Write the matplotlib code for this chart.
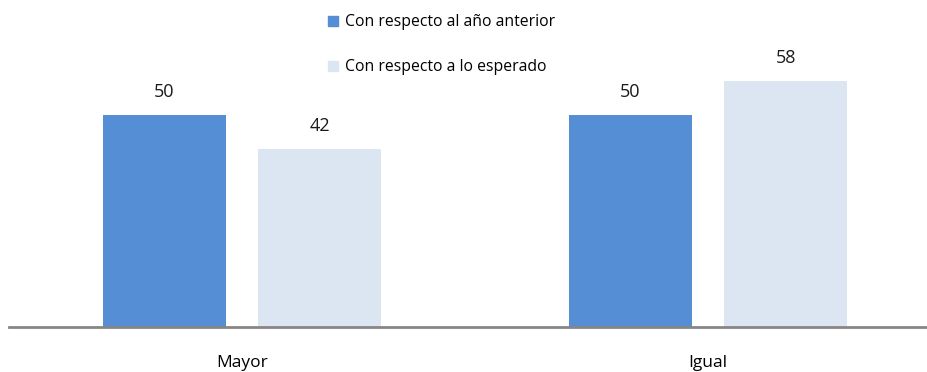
import matplotlib
matplotlib.use("Agg")
import matplotlib.pyplot as plt
from matplotlib.lines import Line2D
import numpy as np

categories = ["Mayor", "Igual"]
series_names = ["Con respecto al año anterior", "Con respecto a lo esperado"]
anterior = [50, 50]
esperado = [42, 58]
colors = ["#558ED5", "#DCE6F2"]

plt.rcParams['font.family'] = ['Open Sans', 'DejaVu Sans']

fig = plt.figure(figsize=(9.27, 3.72), dpi=100)
ax = fig.add_axes([0.0, 45/372, 1.0, 327/372])

x = np.arange(len(categories))
w = 0.264
off = 0.167
for vals, o, c in [(anterior, -off, colors[0]), (esperado, off, colors[1])]:
    bars = ax.bar(x + o, vals, width=w, color=c, zorder=2)
    for b, v in zip(bars, vals):
        ax.text(b.get_x() + b.get_width()/2, v + 3.2, f"{v}", ha="center", va="bottom",
                fontsize=13, color="#1a1a1a")

ax.set_xlim(-0.519, 1.470)
ax.set_ylim(0, 77)
for s in ["top", "right", "left"]:
    ax.spines[s].set_visible(False)
ax.spines["bottom"].set_color("#868686")
ax.spines["bottom"].set_linewidth(2)
ax.spines["bottom"].set_bounds(-0.5, 1.47)
ax.set_yticks([])
ax.set_xticks(x)
ax.set_xticklabels(categories, fontsize=12.5)
ax.tick_params(axis="x", length=0, pad=20)

handles = [Line2D([], [], marker="s", linestyle="none", markersize=7,
                  markerfacecolor=c, markeredgecolor=c) for c in colors]
leg = fig.legend(handles, series_names, loc="upper left", bbox_to_anchor=(322/927, 1 - 8/372),
                 frameon=False, fontsize=11.3, handlelength=0.6, handletextpad=0.45,
                 labelspacing=1.85, borderaxespad=0)

fig.savefig("out.png", dpi=100)
